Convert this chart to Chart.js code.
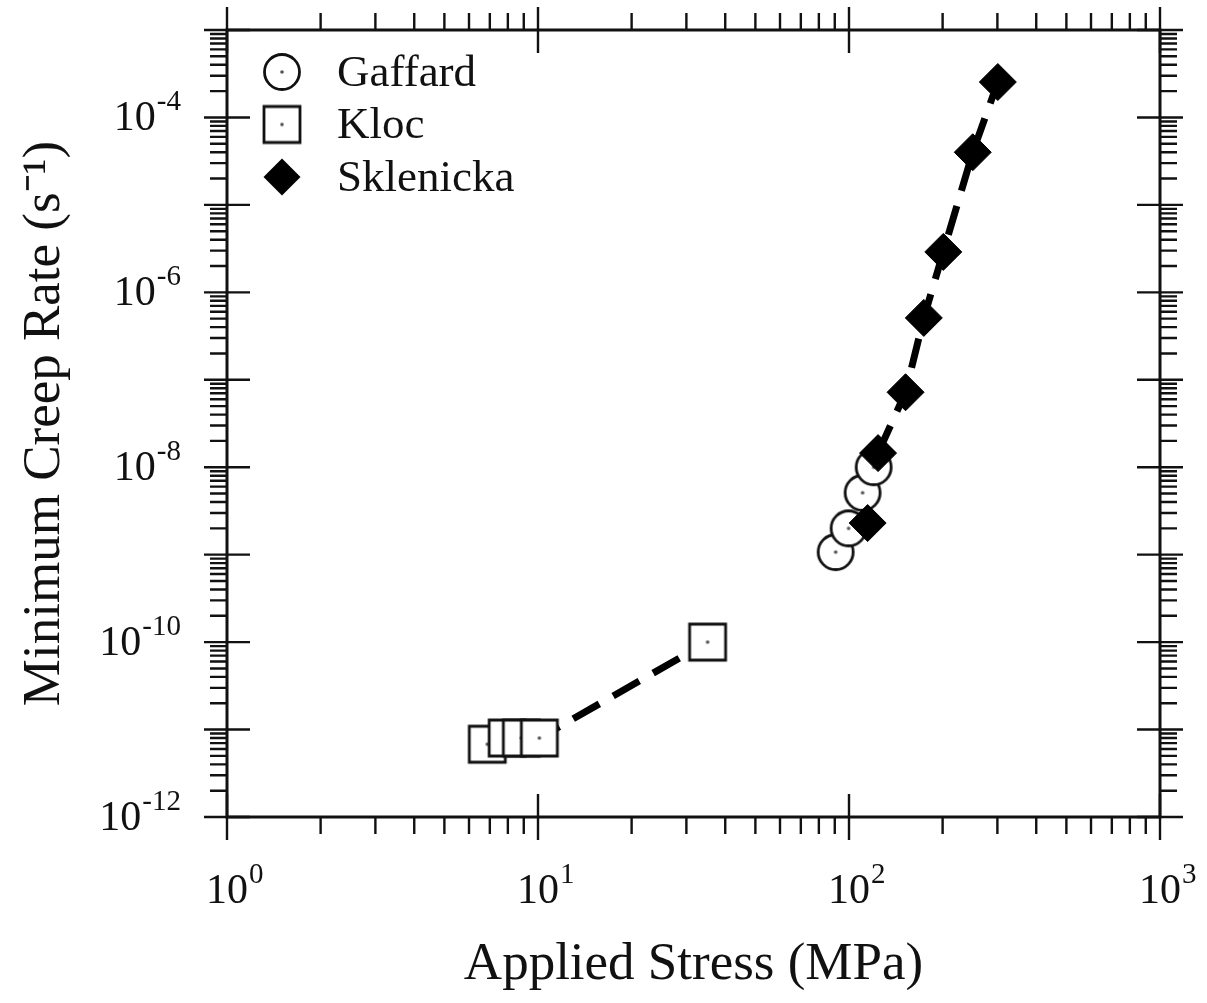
<!DOCTYPE html>
<html><head><meta charset="utf-8">
<script src="https://cdn.jsdelivr.net/npm/chart.js@4.4.1/dist/chart.umd.min.js"></script>
<style>html,body{margin:0;padding:0;background:#fff;} #wrap{width:1207px;height:1003px;position:relative;}</style>
</head><body><div id="wrap"><canvas id="c"></canvas></div>
<script>
// ---- data ----
const seriesNames = ['Gaffard', 'Kloc', 'Sklenicka'];
const gaffardStress = [90.6, 99.7, 110.6, 120];
const gaffardRate = [1.07e-9, 2.0e-9, 5.1e-9, 1.0e-8];
const klocStress = [6.87, 7.96, 8.84, 10.1, 35.1];
const klocRate = [6.8e-12, 8.0e-12, 8.0e-12, 8.0e-12, 1.0e-10];
const sklenickaStress = [114.8, 124, 152, 174, 201, 250, 301];
const sklenickaRate = [2.3e-9, 1.45e-8, 7.2e-8, 5.1e-7, 2.9e-6, 4.0e-5, 2.54e-4];
const xTickValues = [1, 10, 100, 1000];
const xTickBase = ['10', '10', '10', '10'];
const xTickExp = ['0', '1', '2', '3'];
const yTickValues = [1e-12, 1e-10, 1e-8, 1e-6, 1e-4];
const yTickBase = ['10', '10', '10', '10', '10'];
const yTickExp = ['-12', '-10', '-8', '-6', '-4'];
const xTitle = 'Applied Stress (MPa)';
const yTitle = 'Minimum Creep Rate (s⁻¹)';

const FONT = 'Liberation Serif';
const INK = '#111';

function makeMarker(kind) {
  const s = 44, c = document.createElement('canvas');
  c.width = s; c.height = s;
  const g = c.getContext('2d');
  g.lineWidth = 2.8; g.strokeStyle = INK; g.fillStyle = '#fff';
  g.beginPath();
  if (kind === 'circle') g.arc(s / 2, s / 2, 17.5, 0, 2 * Math.PI);
  else g.rect(s / 2 - 18, s / 2 - 18, 36, 36);
  g.fill(); g.stroke();
  g.fillStyle = '#555'; g.beginPath(); g.arc(s / 2, s / 2, 1.8, 0, 2 * Math.PI); g.fill();
  return c;
}
const circleImg = makeMarker('circle');
const squareImg = makeMarker('square');

const pts = (xs, ys) => xs.map((v, i) => ({ x: v, y: ys[i] }));

const frameTicks = {
  id: 'frameTicks',
  afterDatasetsDraw(chart) {
    const { ctx, chartArea: a, scales: { x, y } } = chart;
    ctx.save();
    ctx.strokeStyle = INK; ctx.lineWidth = 2.4; ctx.lineCap = 'butt';
    const minorLen = 17, majorLen = 23;
    const decades = (s) => {
      const out = [];
      const e0 = Math.round(Math.log10(s.min)), e1 = Math.round(Math.log10(s.max));
      for (let e = e0; e < e1; e++) for (let d = 1; d <= 9; d++) out.push({ v: d * Math.pow(10, e), major: d === 1 });
      out.push({ v: Math.pow(10, e1), major: true });
      return out;
    };
    ctx.beginPath();
    decades(x).forEach(t => {
      const px = x.getPixelForValue(t.v);
      if (t.major) {
        ctx.moveTo(px, a.bottom - majorLen); ctx.lineTo(px, a.bottom + majorLen);
        ctx.moveTo(px, a.top - majorLen); ctx.lineTo(px, a.top + majorLen);
      } else {
        ctx.moveTo(px, a.bottom); ctx.lineTo(px, a.bottom + minorLen);
        ctx.moveTo(px, a.top); ctx.lineTo(px, a.top - minorLen);
      }
    });
    decades(y).forEach(t => {
      const py = y.getPixelForValue(t.v);
      if (t.major) {
        ctx.moveTo(a.left - majorLen, py); ctx.lineTo(a.left + majorLen, py);
        ctx.moveTo(a.right - majorLen, py); ctx.lineTo(a.right + majorLen, py);
      } else {
        ctx.moveTo(a.left - minorLen, py); ctx.lineTo(a.left, py);
        ctx.moveTo(a.right, py); ctx.lineTo(a.right + minorLen, py);
      }
    });
    ctx.stroke();
    ctx.lineWidth = 3;
    ctx.strokeRect(a.left, a.top, a.right - a.left, a.bottom - a.top);
    ctx.restore();
  }
};

// power-of-ten tick labels with a real superscript exponent
const powerLabels = {
  id: 'powerLabels',
  afterDraw(chart) {
    const { ctx, chartArea: a, scales: { x, y } } = chart;
    const baseFont = '42px "' + FONT + '"', expFont = '29px "' + FONT + '"';
    ctx.save();
    ctx.fillStyle = INK; ctx.textBaseline = 'alphabetic'; ctx.textAlign = 'left';
    xTickValues.forEach((v, i) => {
      const px = x.getPixelForValue(v);
      ctx.font = baseFont;
      const bw = ctx.measureText(xTickBase[i]).width;
      const bl = a.bottom + 86;
      ctx.fillText(xTickBase[i], px - bw / 2, bl);
      ctx.font = expFont;
      ctx.fillText(xTickExp[i], px + bw / 2 + 1, bl - 20);
    });
    yTickValues.forEach((v, i) => {
      const py = y.getPixelForValue(v);
      ctx.font = expFont;
      const ew = ctx.measureText(yTickExp[i]).width;
      ctx.font = baseFont;
      const bw = ctx.measureText(yTickBase[i]).width;
      const right = a.left - 46;
      const bl = py + 13;
      ctx.fillText(yTickBase[i], right - ew - 1 - bw, bl);
      ctx.font = expFont;
      ctx.fillText(yTickExp[i], right - ew, bl - 20);
    });
    ctx.restore();
  }
};

const legendBox = {
  id: 'legendBox',
  afterDraw(chart) {
    const { ctx, chartArea: a } = chart;
    ctx.save();
    const mx = a.left + 55, tx = a.left + 110, y0 = a.top + 42, dy = 52.5;
    chart.data.datasets.forEach((ds, i) => {
      const cy = y0 + i * dy;
      const ps = ds.pointStyle;
      if (typeof ps === 'object') {
        ctx.drawImage(ps, mx - ps.width / 2, cy - ps.height / 2);
      } else {
        const r = ds.pointRadius;
        ctx.fillStyle = ds.pointBackgroundColor;
        ctx.beginPath();
        ctx.moveTo(mx - r, cy); ctx.lineTo(mx, cy - r); ctx.lineTo(mx + r, cy); ctx.lineTo(mx, cy + r);
        ctx.closePath(); ctx.fill();
      }
      ctx.fillStyle = INK;
      ctx.font = '45px "' + FONT + '"';
      ctx.textAlign = 'left'; ctx.textBaseline = 'middle';
      ctx.fillText(ds.label, tx, cy + 2);
    });
    ctx.restore();
  }
};

new Chart(document.getElementById('c'), {
  type: 'scatter',
  data: {
    datasets: [
      { label: seriesNames[0], data: pts(gaffardStress, gaffardRate), pointStyle: circleImg, pointRadius: 18, showLine: false, order: 1 },
      { label: seriesNames[1], data: pts(klocStress, klocRate), pointStyle: squareImg, pointRadius: 18, showLine: true,
        borderColor: '#000', borderWidth: 7, borderDash: [30, 16], order: 2 },
      { label: seriesNames[2], data: pts(sklenickaStress, sklenickaRate), pointStyle: 'rectRot', pointRadius: 18.5,
        pointBackgroundColor: '#000', pointBorderColor: '#000', pointBorderWidth: 1, backgroundColor: '#000',
        showLine: true, borderColor: '#000', borderWidth: 7, borderDash: [30, 16],
        segment: { borderColor: c => c.p0DataIndex === 0 ? 'rgba(0,0,0,0)' : '#000' }, order: 0 }
    ]
  },
  options: {
    responsive: true, maintainAspectRatio: false, animation: false,
    layout: { padding: { top: 30, right: 47, left: 0, bottom: 0 } },
    plugins: { legend: { display: false }, tooltip: { enabled: false } },
    scales: {
      x: {
        type: 'logarithmic', min: 1, max: 1000,
        grid: { display: false, drawTicks: false }, border: { display: false },
        afterBuildTicks: s => { s.ticks = xTickValues.map(v => ({ value: v })); },
        afterFit: s => { s.height = 186; s.paddingLeft = 0; s.paddingRight = 0; },
        ticks: { display: false },
        title: { display: true, text: xTitle, color: INK, font: { family: FONT, size: 53 }, padding: { top: 0, bottom: 6 } }
      },
      y: {
        type: 'logarithmic', min: 1e-12, max: 1e-3,
        grid: { display: false, drawTicks: false }, border: { display: false },
        afterBuildTicks: s => { s.ticks = yTickValues.map(v => ({ value: v })); },
        afterFit: s => { s.width = 227; s.paddingTop = 0; s.paddingBottom = 0; },
        ticks: { display: false },
        title: { display: true, text: yTitle, color: INK, font: { family: FONT, size: 53 }, padding: { top: 13, bottom: 0 } }
      }
    }
  },
  plugins: [frameTicks, powerLabels, legendBox]
});
</script>
</body></html>
